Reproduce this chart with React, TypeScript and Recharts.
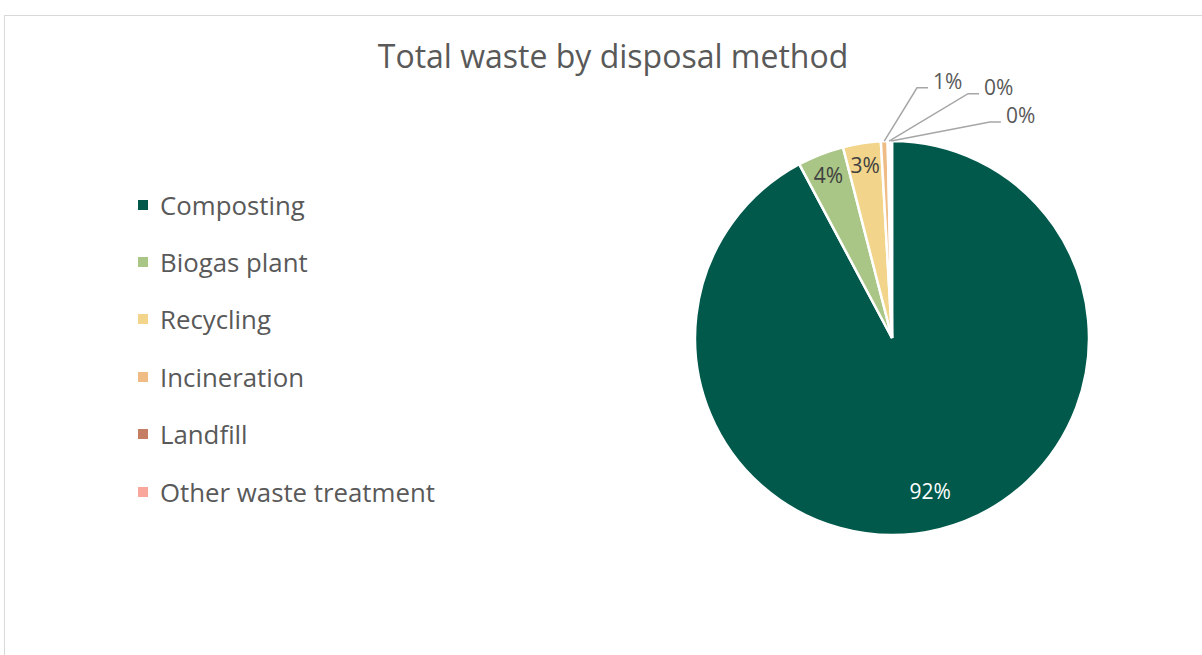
import React from "react";
import { PieChart, Pie, Cell, Legend } from "recharts";

// ---- data ----
const title = "Total waste by disposal method";
const categories = [
  "Composting",
  "Biogas plant",
  "Recycling",
  "Incineration",
  "Landfill",
  "Other waste treatment",
];
const shares = [92.2, 3.8, 3.1, 0.55, 0.22, 0.13];
const colors = ["#00594B", "#A9C686", "#F2D58A", "#EFBC86", "#C57E64", "#F9A79C"];

const data = categories.map((name, i) => ({ name, value: shares[i] }));

// ---- style / layout ----
const FONT = "'Open Sans', 'Noto Sans', sans-serif";
const TEXT = "#595959";
const W = 1202;
const H = 655;
const CX = 892;
const CY = 338;
const R = 197;
// callout elbows for the tiny slices, in units of the radius (dx, dy)
const calloutAnchors = [
  [0.127, -1.27],
  [0.386, -1.24],
  [0.497, -1.096],
];
const RAD = Math.PI / 180;

const renderLabel = (p: any) => {
  const { cx, cy, midAngle, outerRadius, percent, index } = p;
  const text = `${Math.round(percent * 100)}%`;
  if (percent >= 0.02) {
    const f = percent > 0.5 ? 0.8 : 0.89;
    const x = cx + outerRadius * f * Math.cos(-midAngle * RAD);
    const y = cy + outerRadius * f * Math.sin(-midAngle * RAD);
    return (
      <text
        x={x}
        y={y}
        fill={percent > 0.5 ? "#ffffff" : "#404040"}
        fontFamily={FONT}
        fontSize={21}
        textAnchor="middle"
        dominantBaseline="central"
      >
        {text}
      </text>
    );
  }
  const k = Math.max(0, index - 3);
  const a = calloutAnchors[Math.min(k, calloutAnchors.length - 1)];
  const sx = cx + outerRadius * Math.cos(-midAngle * RAD);
  const sy = cy + outerRadius * Math.sin(-midAngle * RAD);
  const ex = cx + outerRadius * a[0];
  const ey = cy + outerRadius * a[1];
  const hx = ex + 11;
  return (
    <g>
      <polyline
        points={`${sx},${sy} ${ex},${ey} ${hx},${ey}`}
        fill="none"
        stroke="#A6A6A6"
        strokeWidth={1.5}
      />
      <text
        x={hx + 5}
        y={ey + 1}
        fill={TEXT}
        fontFamily={FONT}
        fontSize={21}
        textAnchor="start"
      >
        {text}
      </text>
    </g>
  );
};

const renderLegend = () => (
  <div style={{ fontFamily: FONT, fontSize: 25.8, color: TEXT }}>
    {categories.map((c, i) => (
      <div
        key={c}
        style={{ height: 57.4, display: "flex", alignItems: "center", whiteSpace: "nowrap" }}
      >
        <span
          style={{
            display: "inline-block",
            width: 10,
            height: 10,
            background: colors[i],
            marginRight: 12,
          }}
        />
        <span>{c}</span>
      </div>
    ))}
  </div>
);

export default function App() {
  return (
    <div
      style={{
        position: "absolute",
        left: 0,
        top: 0,
        width: W,
        height: H,
        overflow: "hidden",
        background: "#ffffff",
      }}
    >
      <div
        style={{
          position: "absolute",
          left: 4,
          top: 15,
          width: W + 20,
          height: H + 20,
          border: "1px solid #D9D9D9",
          boxSizing: "border-box",
        }}
      />
      <div style={{ position: "absolute", left: 0, top: 0 }}>
        <PieChart width={W} height={H} margin={{ top: 0, right: 0, bottom: 0, left: 0 }}>
          <text
            x={613}
            y={68}
            textAnchor="middle"
            fontFamily={FONT}
            fontSize={32}
            fill={TEXT}
          >
            {title}
          </text>
          <Pie
            data={data}
            dataKey="value"
            nameKey="name"
            cx={CX}
            cy={CY}
            outerRadius={R}
            startAngle={90}
            endAngle={-270}
            stroke="#ffffff"
            strokeWidth={2.5}
            isAnimationActive={false}
            labelLine={false}
            label={renderLabel}
          >
            {data.map((d, i) => (
              <Cell key={d.name} fill={colors[i]} />
            ))}
          </Pie>
          <Legend
            layout="vertical"
            align="center"
            verticalAlign="middle"
            content={renderLegend}
            wrapperStyle={{ left: 138, top: 176, width: 420, height: 350 }}
          />
        </PieChart>
      </div>
    </div>
  );
}
